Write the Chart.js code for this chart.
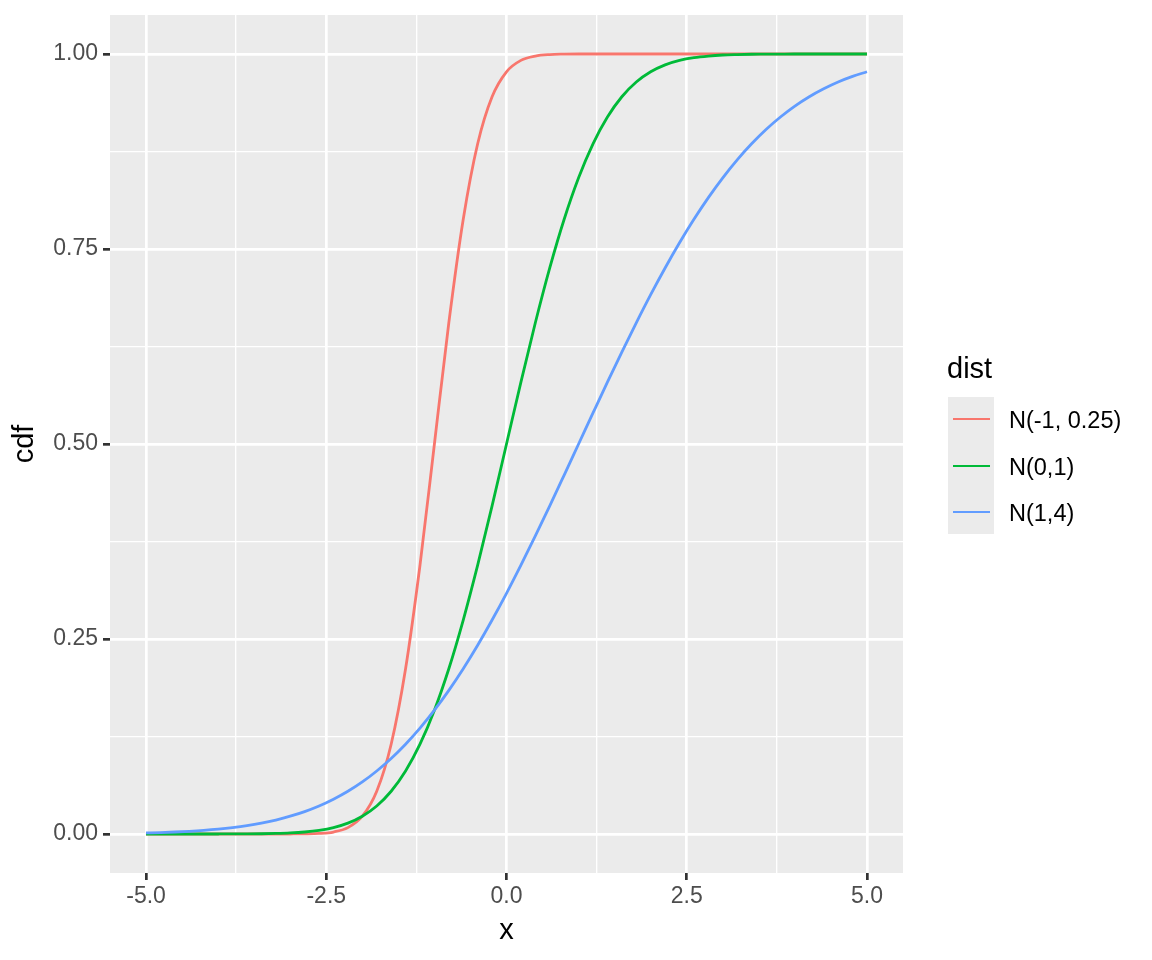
<!DOCTYPE html>
<html>
<head>
<meta charset="utf-8">
<script src="https://cdn.jsdelivr.net/npm/chart.js@4/dist/chart.umd.min.js"></script>
<style>
  html, body { margin: 0; padding: 0; background: #ffffff; }
  #wrap { position: relative; width: 1152px; height: 960px; font-family: "Liberation Sans", Arial, sans-serif; }
  #c { position: absolute; left: 0; top: 0; }
  .lg { position: absolute; white-space: nowrap; }
</style>
</head>
<body>
<div id="wrap">
  <canvas id="c" width="1152" height="960"></canvas>
  <div id="legend"></div>
</div>
<script>
// ---- data ----
const xs = [-5, -4.8, -4.6, -4.4, -4.2, -4, -3.8, -3.6, -3.4, -3.2, -3, -2.8, -2.6, -2.4, -2.2, -2, -1.8, -1.6, -1.4, -1.2, -1, -0.8, -0.6, -0.4, -0.2, 0, 0.2, 0.4, 0.6, 0.8, 1, 1.2, 1.4, 1.6, 1.8, 2, 2.2, 2.4, 2.6, 2.8, 3, 3.2, 3.4, 3.6, 3.8, 4, 4.2, 4.4, 4.6, 4.8, 5];
const cdfRed = [0, 0, 0, 0, 0, 0, 0, 0, 0, 0, 0.00003, 0.00016, 0.00069, 0.00256, 0.0082, 0.0228, 0.0548, 0.1151, 0.2119, 0.3446, 0.5, 0.6554, 0.7881, 0.8849, 0.9452, 0.9772, 0.9918, 0.9974, 0.9993, 0.9998, 1, 1, 1, 1, 1, 1, 1, 1, 1, 1, 1, 1, 1, 1, 1, 1, 1, 1, 1, 1, 1];
const cdfGreen = [0, 0, 0, 0.00001, 0.00001, 0.00003, 0.00007, 0.00016, 0.00034, 0.00069, 0.00135, 0.00256, 0.00466, 0.0082, 0.0139, 0.0228, 0.0359, 0.0548, 0.0808, 0.1151, 0.1587, 0.2119, 0.2743, 0.3446, 0.4207, 0.5, 0.5793, 0.6554, 0.7257, 0.7881, 0.8413, 0.8849, 0.9192, 0.9452, 0.9641, 0.9772, 0.9861, 0.9918, 0.9953, 0.9974, 0.9987, 0.9993, 0.9997, 0.9998, 0.9999, 1, 1, 1, 1, 1, 1];
const cdfBlue = [0.00135, 0.00187, 0.00256, 0.00347, 0.00466, 0.00621, 0.0082, 0.0107, 0.0139, 0.0179, 0.0228, 0.0287, 0.0359, 0.0446, 0.0548, 0.0668, 0.0808, 0.0968, 0.1151, 0.1357, 0.1587, 0.1841, 0.2119, 0.242, 0.2743, 0.3085, 0.3446, 0.3821, 0.4207, 0.4602, 0.5, 0.5398, 0.5793, 0.6179, 0.6554, 0.6915, 0.7257, 0.758, 0.7881, 0.8159, 0.8413, 0.8643, 0.8849, 0.9032, 0.9192, 0.9332, 0.9452, 0.9554, 0.9641, 0.9713, 0.9772];
const seriesNames = ["N(-1, 0.25)", "N(0,1)", "N(1,4)"];
const seriesColors = ["#F8766D", "#00BA38", "#619CFF"];
const xMajor = [-5, -2.5, 0, 2.5, 5];
const xMinor = [-3.75, -1.25, 1.25, 3.75];
const xTickLabels = ["-5.0", "-2.5", "0.0", "2.5", "5.0"];
const yMajor = [0, 0.25, 0.5, 0.75, 1];
const yMinor = [0.125, 0.375, 0.625, 0.875];
const yTickLabels = ["0.00", "0.25", "0.50", "0.75", "1.00"];
const xTitle = "x", yTitle = "cdf", legendTitle = "dist";

// ---- style ----
const FONT = "Liberation Sans";
const TICK_PX = 23, TITLE_PX = 29, LEGEND_PX = 23.5;
const LW_MAJOR = 2.7, LW_MINOR = 1.35;

function buildTicks(major, minor) {
  return major.map(v => ({ value: v, major: true }))
    .concat(minor.map(v => ({ value: v, major: false })))
    .sort((a, b) => a.value - b.value);
}
function isMajor(ctx) { return ctx.tick && ctx.tick.major; }

const panelBg = {
  id: 'panelBg',
  beforeDraw(chart) {
    const { ctx, chartArea: a } = chart;
    ctx.save();
    ctx.fillStyle = '#EBEBEB';
    ctx.fillRect(a.left, a.top, a.right - a.left, a.bottom - a.top);
    ctx.restore();
  }
};

const series = [cdfRed, cdfGreen, cdfBlue];
const datasets = series.map((vals, i) => ({
  label: seriesNames[i],
  data: xs.map((x, j) => ({ x: x, y: vals[j] })),
  borderColor: seriesColors[i],
  backgroundColor: seriesColors[i],
  borderWidth: 2.8,
  pointRadius: 0,
  fill: false,
  cubicInterpolationMode: 'monotone',
  order: 2 - i
}));

new Chart(document.getElementById('c'), {
  type: 'line',
  data: { datasets },
  options: {
    responsive: false,
    animation: false,
    devicePixelRatio: 1,
    layout: { padding: { left: 0, right: 249, top: 15, bottom: 0 } },
    plugins: { legend: { display: false }, tooltip: { enabled: false } },
    scales: {
      x: {
        type: 'linear',
        min: -5.5, max: 5.5,
        afterBuildTicks(s) { s.ticks = buildTicks(xMajor, xMinor); },
        afterFit(s) { s.height = 87; },
        border: { display: false },
        grid: {
          color: '#FFFFFF',
          lineWidth: c => isMajor(c) ? LW_MAJOR : LW_MINOR,
          drawTicks: true,
          tickLength: 7,
          tickColor: c => isMajor(c) ? '#333333' : 'rgba(0,0,0,0)',
          tickWidth: LW_MAJOR
        },
        ticks: {
          autoSkip: false,
          maxRotation: 0,
          padding: 3,
          color: '#4D4D4D',
          font: { family: FONT, size: TICK_PX },
          callback: function(v) { const k = xMajor.indexOf(v); return k >= 0 ? xTickLabels[k] : ''; }
        },
        title: {
          display: true, text: xTitle, color: '#000000',
          font: { family: FONT, size: TITLE_PX },
          padding: { top: 0, bottom: 12 }
        }
      },
      y: {
        type: 'linear',
        min: -0.05, max: 1.05,
        afterBuildTicks(s) { s.ticks = buildTicks(yMajor, yMinor); },
        afterFit(s) { s.width = 110; },
        border: { display: false },
        grid: {
          color: '#FFFFFF',
          lineWidth: c => isMajor(c) ? LW_MAJOR : LW_MINOR,
          drawTicks: true,
          tickLength: 7,
          tickColor: c => isMajor(c) ? '#333333' : 'rgba(0,0,0,0)',
          tickWidth: LW_MAJOR
        },
        ticks: {
          autoSkip: false,
          padding: 5,
          color: '#4D4D4D',
          font: { family: FONT, size: TICK_PX, lineHeight: 0.5 },
          callback: function(v) { const k = yMajor.indexOf(v); return k >= 0 ? yTickLabels[k] : ''; }
        },
        title: {
          display: true, text: yTitle, color: '#000000',
          font: { family: FONT, size: TITLE_PX },
          padding: { top: 7.6, bottom: 0 }
        }
      }
    }
  },
  plugins: [panelBg]
});

// ---- legend (HTML text) ----
(function () {
  const lg = document.getElementById('legend');
  let html = '';
  html += '<div class="lg" style="left:947px;top:353.5px;font-size:' + TITLE_PX + 'px;line-height:' + TITLE_PX + 'px;color:#000">' + legendTitle + '</div>';
  html += '<div class="lg" style="left:948px;top:397px;width:46px;height:137px;background:#EBEBEB"></div>';
  const centers = [419, 466, 512];
  seriesNames.forEach((name, i) => {
    html += '<div class="lg" style="left:952.5px;top:' + (centers[i] - 1.4) + 'px;width:37.5px;height:2.8px;background:' + seriesColors[i] + '"></div>';
    html += '<div class="lg" style="left:1009px;top:' + (centers[i] - 10.8) + 'px;font-size:' + LEGEND_PX + 'px;line-height:24px;color:#000">' + name + '</div>';
  });
  lg.innerHTML = html;
})();
</script>
</body>
</html>
